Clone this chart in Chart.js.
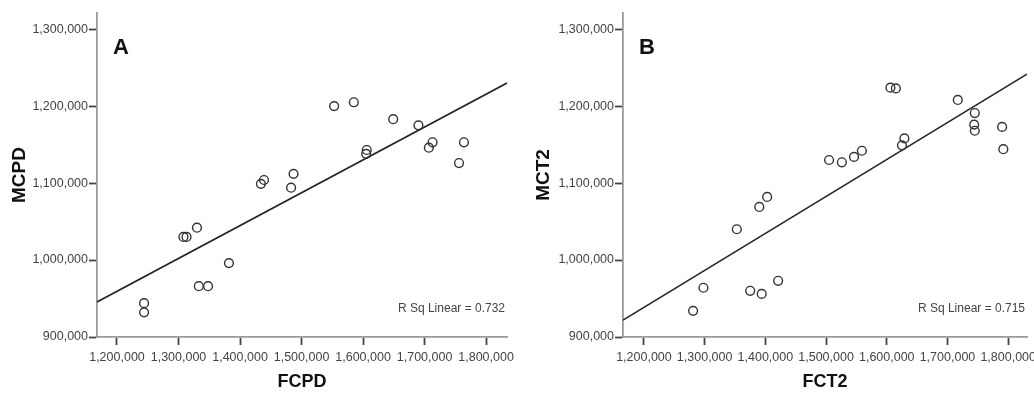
<!DOCTYPE html>
<html>
<head>
<meta charset="utf-8">
<script src="https://cdn.jsdelivr.net/npm/chart.js@4.4.1/dist/chart.umd.min.js"></script>
<style>
  html, body { margin: 0; padding: 0; background: #fff; }
  #wrap { position: relative; width: 1034px; height: 393px; overflow: hidden; }
  .panel { position: absolute; top: 0; height: 393px; }
  #pa { left: 0; width: 517px; }
  #pb { left: 517px; width: 517px; }
</style>
</head>
<body>
<div id="wrap">
  <div class="panel" id="pa"><canvas id="ca"></canvas></div>
  <div class="panel" id="pb"><canvas id="cb"></canvas></div>
</div>
<script>
// ---- Panel A data (FCPD vs MCPD) ----
const fcpd = [1553000, 1585000, 1649000, 1690000, 1606000, 1605000, 1713000, 1707000, 1764000, 1756000,
              1439000, 1434000, 1487000, 1483000, 1330000, 1313000, 1308000, 1382000, 1333000, 1348000,
              1244000, 1244000];
const mcpd = [1200000, 1205000, 1183000, 1175000, 1143000, 1138000, 1153000, 1146000, 1153000, 1126000,
              1104000, 1099000, 1112000, 1094000, 1042000, 1030000, 1030000, 996000, 966000, 966000,
              944000, 932000];
const fitAX = [1167500, 1834000];
const fitAY = [945500, 1230000];
const rsqA = "R Sq Linear = 0.732";

// ---- Panel B data (FCT2 vs MCT2) ----
const fct2 = [1606000, 1615000, 1717000, 1745000, 1744000, 1745000, 1790000, 1792000, 1629000, 1625000,
              1505000, 1526000, 1546000, 1559000, 1403000, 1390000, 1353000, 1298000, 1281000, 1375000,
              1394000, 1421000];
const mct2 = [1224000, 1223000, 1208000, 1191000, 1176000, 1168000, 1173000, 1144000, 1158000, 1149000,
              1130000, 1127000, 1134000, 1142000, 1082000, 1069000, 1040000, 964000, 934000, 960000,
              956000, 973000];
const fitBX = [1165500, 1831000];
const fitBY = [922000, 1241500];
const rsqB = "R Sq Linear = 0.715";

// ---- Axes ----
const xTicks = [1200000, 1300000, 1400000, 1500000, 1600000, 1700000, 1800000];
const yTicks = [900000, 1000000, 1100000, 1200000, 1300000];
const yMin = 900000, yMax = 1321000;

const fmt = v => Number(v).toLocaleString('en-US');
const TICK_FONT = { family: "'Liberation Sans', Arial, sans-serif", size: 12.5 };
const TITLE_FONT = { family: "'Liberation Sans', Arial, sans-serif", size: 18, weight: 'bold' };
const YTITLE_FONT = { family: "'Liberation Sans', Arial, sans-serif", size: 19, weight: 'bold' };

function labelPlugin(letter, rsq) {
  return {
    id: 'panelLabels',
    afterDatasetsDraw(chart) {
      const { ctx, chartArea } = chart;
      ctx.save();
      ctx.fillStyle = '#111';
      ctx.font = "bold 22px 'Liberation Sans', Arial, sans-serif";
      ctx.textAlign = 'left';
      ctx.textBaseline = 'middle';
      ctx.fillText(letter, chartArea.left + 16, chartArea.top + 35);
      ctx.fillStyle = '#444';
      ctx.font = "12px 'Liberation Sans', Arial, sans-serif";
      ctx.textAlign = 'right';
      ctx.fillText(rsq, chartArea.right - 2, chartArea.bottom - 28);
      ctx.restore();
    }
  };
}

function makeChart(canvasId, xs, ys, fx, fy, xTitle, yTitle, xMin, xMax, yAxisWidth, padRight, yTitlePad, letter, rsq) {
  const pts = xs.map((x, i) => ({ x: x, y: ys[i] }));
  const line = fx.map((x, i) => ({ x: x, y: fy[i] }));
  return new Chart(document.getElementById(canvasId), {
    type: 'scatter',
    data: {
      datasets: [
        {
          data: pts,
          pointRadius: 4.4,
          pointHoverRadius: 4.4,
          pointBorderWidth: 1.4,
          pointBorderColor: '#333',
          pointBackgroundColor: 'rgba(0,0,0,0)',
          showLine: false
        },
        {
          type: 'line',
          data: line,
          borderColor: '#222',
          borderWidth: 1.6,
          pointRadius: 0,
          fill: false,
          tension: 0
        }
      ]
    },
    options: {
      responsive: true,
      maintainAspectRatio: false,
      animation: false,
      events: [],
      layout: { padding: { left: 0, top: 13, right: padRight, bottom: 0 } },
      plugins: { legend: { display: false }, tooltip: { enabled: false } },
      scales: {
        x: {
          type: 'linear',
          min: xMin,
          max: xMax,
          afterBuildTicks: s => { s.ticks = xTicks.map(v => ({ value: v })); },
          afterFit: s => { s.height = 56; s.paddingLeft = 0; s.paddingRight = 0; },
          ticks: {
            autoSkip: false, maxRotation: 0, minRotation: 0,
            color: '#444', font: TICK_FONT, padding: 5,
            callback: v => fmt(v)
          },
          grid: { display: true, drawOnChartArea: false, drawTicks: true, tickLength: 8, tickColor: '#444', tickWidth: 1.8 },
          border: { display: true, color: '#9a9a9a', width: 1.8 },
          title: { display: true, text: xTitle, color: '#111', font: TITLE_FONT, padding: { top: 0, bottom: 0 } }
        },
        y: {
          type: 'linear',
          min: yMin,
          max: yMax,
          afterBuildTicks: s => { s.ticks = yTicks.map(v => ({ value: v })); },
          afterFit: s => { s.width = yAxisWidth; s.paddingTop = 0; s.paddingBottom = 0; },
          ticks: {
            color: '#444', font: TICK_FONT, padding: 1,
            callback: v => fmt(v)
          },
          grid: { display: true, drawOnChartArea: false, drawTicks: true, tickLength: 8, tickColor: '#444', tickWidth: 1.8 },
          border: { display: true, color: '#9a9a9a', width: 1.8 },
          title: { display: true, text: yTitle, color: '#111', font: YTITLE_FONT, padding: { top: yTitlePad, bottom: 0 } }
        }
      }
    },
    plugins: [labelPlugin(letter, rsq)]
  });
}

makeChart('ca', fcpd, mcpd, fitAX, fitAY, 'FCPD', 'MCPD', 1167500, 1834000, 97, 10, 8, 'A', rsqA);
makeChart('cb', fct2, mct2, fitBX, fitBY, 'FCT2', 'MCT2', 1165500, 1831000, 106, 7, 15, 'B', rsqB);
</script>
</body>
</html>
